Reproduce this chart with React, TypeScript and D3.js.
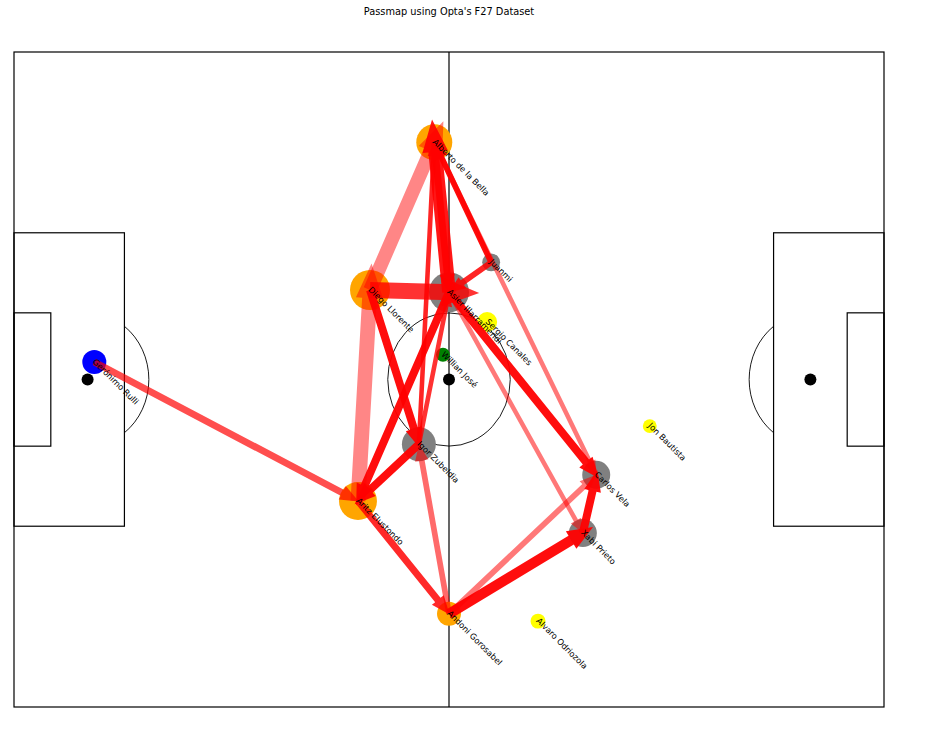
import React, { useRef, useEffect } from 'react'
import * as d3 from 'd3'

// Pitch dimensions (metres)
const PITCH_LENGTH = 130
const PITCH_WIDTH = 90

// Player average positions (pitch metres), touches and role
const players = ['Gerónimo Rulli', 'Alberto de la Bella', 'Diego Llorente', 'Asier Illarramendi', 'Juanmi', 'Sergio Canales', 'Willian José', 'Igor Zubeldia', 'Aritz Elustondo', 'Andoni Gorosabel', 'Carlos Vela', 'Xabi Prieto', 'Jon Bautista', 'Alvaro Odriozola']
const avgX = [12.0, 62.8, 53.2, 65.0, 71.3, 70.7, 64.1, 60.5, 51.4, 65.0, 87.0, 85.0, 95.0, 78.3]
const avgY = [42.6, 12.4, 32.7, 33.0, 28.9, 37.1, 41.6, 53.9, 61.7, 77.2, 58.1, 66.1, 51.4, 78.2]
const touches = [36, 81, 100, 100, 20, 25, 12, 72, 90, 36, 49, 49, 12, 14]
const roles = ['GK', 'DEF', 'DEF', 'MID', 'MID', 'SUB', 'FWD', 'MID', 'DEF', 'DEF', 'MID', 'MID', 'SUB', 'SUB']

const ROLE_KEYS = ['GK', 'DEF', 'MID', 'FWD', 'SUB']
const ROLE_COLORS = ['#0000FF', '#FFA500', '#808080', '#008000', '#FFFF00']

// Pass links: passer index, receiver index, number of passes, completion %
const passFrom = [0, 8, 2, 2, 3, 1, 4, 1, 4, 3, 3, 3, 2, 7, 7, 7, 9, 8, 9, 9, 11]
const passTo = [8, 2, 1, 3, 1, 3, 1, 10, 3, 10, 11, 8, 7, 8, 1, 3, 7, 9, 11, 10, 10]
const passCount = [6, 13, 12, 14, 12, 6, 5, 4, 5, 7, 4, 7, 7, 7, 4, 4, 5, 6, 9, 5, 7]
const passPct = [75, 55, 55, 85, 95, 92, 98, 60, 90, 98, 60, 98, 98, 98, 90, 85, 65, 88, 98, 60, 98]

const TITLE = "Passmap using Opta's F27 Dataset"

const STYLE = {
  line: '#000000',
  arrow: '#FF0000',
  text: '#000000',
  background: '#FFFFFF',
  font: '"DejaVu Sans", Arial, sans-serif'
}

const WIDTH = 939
const HEIGHT = 740

export default function App() {
  const svgRef = useRef<SVGSVGElement>(null)

  useEffect(() => {
    if (!svgRef.current) return
    const svg = d3.select(svgRef.current)
    svg.selectAll('*').remove()

    const margin = { top: 52, right: 55, bottom: 33, left: 14 }
    const x = d3.scaleLinear().domain([0, PITCH_LENGTH]).range([margin.left, WIDTH - margin.right])
    const y = d3.scaleLinear().domain([0, PITCH_WIDTH]).range([margin.top, HEIGHT - margin.bottom])
    const rx = (m: number) => x(m) - x(0)
    const ry = (m: number) => y(m) - y(0)

    const color = d3.scaleOrdinal<string, string>().domain(ROLE_KEYS).range(ROLE_COLORS)
    const radius = d3.scaleSqrt().domain([0, 100]).range([0, 20])
    const widthScale = d3.scaleLinear().domain([0, d3.max(passCount) as number]).range([0, 16])
    const opacity = d3.scaleLinear().domain([50, 100]).range([0.42, 0.97])

    // Title
    svg.append('text')
      .attr('x', x(PITCH_LENGTH / 2))
      .attr('y', 15)
      .attr('text-anchor', 'middle')
      .style('font-size', '9.8px')
      .style('font-family', STYLE.font)
      .style('fill', STYLE.text)
      .text(TITLE)

    // Pitch markings
    const pitch = svg.append('g')
      .attr('fill', 'none')
      .attr('stroke', STYLE.line)
      .attr('stroke-width', 1.2)

    pitch.append('rect')
      .attr('x', x(0)).attr('y', y(0))
      .attr('width', rx(PITCH_LENGTH)).attr('height', ry(PITCH_WIDTH))

    pitch.append('line')
      .attr('x1', x(PITCH_LENGTH / 2)).attr('x2', x(PITCH_LENGTH / 2))
      .attr('y1', y(0)).attr('y2', y(PITCH_WIDTH))

    pitch.append('ellipse')
      .attr('cx', x(PITCH_LENGTH / 2)).attr('cy', y(PITCH_WIDTH / 2))
      .attr('rx', rx(9.15)).attr('ry', ry(9.15))
      .attr('stroke-width', 0.9)

    const boxes = [
      { depth: 16.5, span: 40.32 },
      { depth: 5.5, span: 18.32 }
    ]
    boxes.forEach(b => {
      pitch.append('rect')
        .attr('x', x(0)).attr('y', y(PITCH_WIDTH / 2 - b.span / 2))
        .attr('width', rx(b.depth)).attr('height', ry(b.span))
      pitch.append('rect')
        .attr('x', x(PITCH_LENGTH - b.depth)).attr('y', y(PITCH_WIDTH / 2 - b.span / 2))
        .attr('width', rx(b.depth)).attr('height', ry(b.span))
    })

    // Penalty arcs (outside the box only)
    const theta = Math.acos((16.5 - 11) / 9.15)
    const arcY = 9.15 * Math.sin(theta)
    ;[
      { edge: 16.5, sweep: 1 },
      { edge: PITCH_LENGTH - 16.5, sweep: 0 }
    ].forEach(a => {
      pitch.append('path')
        .attr('stroke-width', 0.9)
        .attr('d', `M${x(a.edge)},${y(PITCH_WIDTH / 2 - arcY)} A${rx(9.15)},${ry(9.15)} 0 0 ${a.sweep} ${x(a.edge)},${y(PITCH_WIDTH / 2 + arcY)}`)
    })

    // Spots
    ;[11, PITCH_LENGTH / 2, PITCH_LENGTH - 11].forEach(s => {
      svg.append('circle')
        .attr('cx', x(s)).attr('cy', y(PITCH_WIDTH / 2))
        .attr('r', 6)
        .attr('fill', STYLE.line)
    })

    // Player nodes
    svg.append('g')
      .selectAll('circle')
      .data(players)
      .enter().append('circle')
      .attr('cx', (d, i) => x(avgX[i]))
      .attr('cy', (d, i) => y(avgY[i]))
      .attr('r', (d, i) => radius(touches[i]))
      .attr('fill', (d, i) => color(roles[i]))

    // Pass arrows
    const arrowPoints = (k: number) => {
      const x0 = x(avgX[passFrom[k]]), y0 = y(avgY[passFrom[k]])
      const x1 = x(avgX[passTo[k]]), y1 = y(avgY[passTo[k]])
      const len = Math.hypot(x1 - x0, y1 - y0)
      const ux = (x1 - x0) / len, uy = (y1 - y0) / len
      const nx = -uy, ny = ux
      const w = widthScale(passCount[k])
      const overshoot = Math.max(0, 3.2 * w - 21)
      const hl = 2 * w + 5
      const hw = 1.5 * w + 5
      const tx = x1 + ux * overshoot, ty = y1 + uy * overshoot
      const bx = tx - ux * hl, by = ty - uy * hl
      return [
        [x0 + nx * w / 2, y0 + ny * w / 2],
        [bx + nx * w / 2, by + ny * w / 2],
        [bx + nx * hw / 2, by + ny * hw / 2],
        [tx, ty],
        [bx - nx * hw / 2, by - ny * hw / 2],
        [bx - nx * w / 2, by - ny * w / 2],
        [x0 - nx * w / 2, y0 - ny * w / 2]
      ].map(p => p.join(',')).join(' ')
    }

    svg.append('g')
      .selectAll('polygon')
      .data(passFrom)
      .enter().append('polygon')
      .attr('points', (d, i) => arrowPoints(i))
      .attr('fill', STYLE.arrow)
      .attr('fill-opacity', (d, i) => opacity(passPct[i]))

    // Player labels
    svg.append('g')
      .selectAll('text')
      .data(players)
      .enter().append('text')
      .attr('transform', (d, i) => `translate(${x(avgX[i]) + 2},${y(avgY[i]) - 4}) rotate(45)`)
      .attr('y', 6)
      .text(d => d)
      .style('font-size', '8.3px')
      .style('font-family', STYLE.font)
      .style('fill', STYLE.text)
  }, [])

  return (
    <svg
      ref={svgRef}
      width={WIDTH}
      height={HEIGHT}
      style={{
        position: 'absolute',
        top: 0,
        left: 0,
        backgroundColor: STYLE.background,
        fontFamily: STYLE.font
      }}
    />
  )
}
